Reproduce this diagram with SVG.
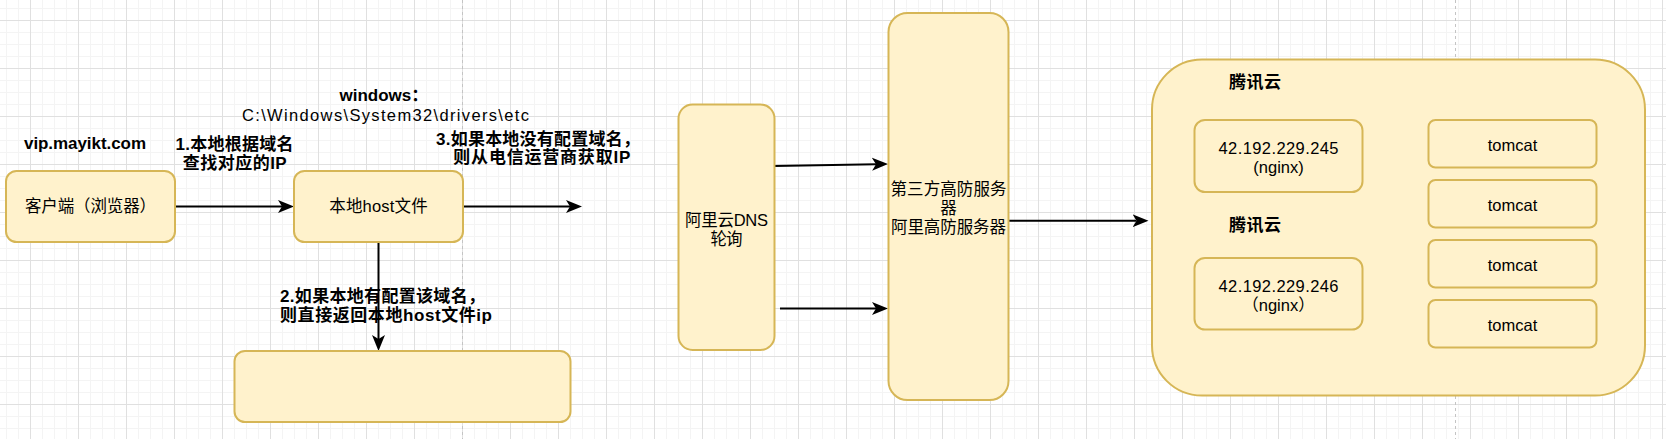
<svg xmlns="http://www.w3.org/2000/svg" width="1666" height="439" viewBox="0 0 1666 439">
<style>
.node{fill:#fff2cc;stroke:#d6b656;stroke-width:2}
.t{font-family:"Liberation Sans","Noto Sans CJK SC",sans-serif;font-size:16.5px;fill:#000}
.b{font-weight:bold;font-size:17px}
.m{text-anchor:middle}
.edge{fill:none;stroke:#000;stroke-width:2;marker-end:url(#arr)}
.pb{stroke:#c4c4c4;stroke-width:1;stroke-dasharray:3 3}
</style>
<defs>
<pattern id="grid" patternUnits="userSpaceOnUse" x="30" y="20" width="48" height="48">
<rect width="48" height="48" fill="#fff"/>
<rect x="12" width="1" height="48" fill="#f4f4f4"/>
<rect x="24" width="1" height="48" fill="#f4f4f4"/>
<rect x="36" width="1" height="48" fill="#f4f4f4"/>
<rect y="12" width="48" height="1" fill="#f4f4f4"/>
<rect y="24" width="48" height="1" fill="#f4f4f4"/>
<rect y="36" width="48" height="1" fill="#f4f4f4"/>
<rect width="1" height="48" fill="#e0e0e0"/>
<rect width="48" height="1" fill="#e0e0e0"/>
</pattern>
<marker id="arr" markerUnits="userSpaceOnUse" markerWidth="16" markerHeight="14" viewBox="0 0 16 14" refX="4" refY="7" orient="auto">
<path d="M0,0.5 L16,7 L0,13.5 L4,7 Z" fill="#000"/>
</marker>
</defs>
<rect width="1666" height="439" fill="url(#grid)"/>
<line class="pb" x1="462.5" y1="0" x2="462.5" y2="439"/>
<line class="pb" x1="1455.5" y1="0" x2="1455.5" y2="439"/>

<g id="connectors">
<path class="edge" d="M175,206.5 L282,206.5"/>
<path class="edge" d="M463,206.5 L570,206.5"/>
<path class="edge" d="M378.5,242 L378.5,339"/>
<path class="edge" d="M774,166 L876,164.2"/>
<path class="edge" d="M780,308.5 L876,308.5"/>
<path class="edge" d="M1008,220.7 L1136.5,220.7"/>
</g>

<g id="client">
<rect class="node" x="6" y="171" width="169" height="71" rx="10.5"/>
<text class="t m" x="90.5" y="212" textLength="131">客户端（浏览器）</text>
</g>
<g id="hostfile">
<rect class="node" x="294" y="171" width="169" height="71" rx="10.5"/>
<text class="t m" x="378.5" y="212" textLength="98.5">本地host文件</text>
</g>
<g id="result">
<rect class="node" x="234.5" y="351" width="336" height="71" rx="10.5"/>
</g>
<g id="aliyun-dns">
<rect class="node" x="678.5" y="104.5" width="96" height="245.5" rx="14"/>
<text class="t m" x="726.5" y="226" textLength="83">阿里云DNS</text>
<text class="t m" x="726.5" y="244.5" textLength="32">轮询</text>
</g>
<g id="ddos-server">
<rect class="node" x="888.5" y="13" width="120" height="387" rx="19"/>
<text class="t m" x="948.5" y="194.5" textLength="116">第三方高防服务</text>
<text class="t m" x="948.5" y="213.5">器</text>
<text class="t m" x="948.5" y="233" textLength="115">阿里高防服务器</text>
</g>
<g id="tencent-cloud">
<rect class="node" x="1152" y="59.5" width="493" height="336" rx="50"/>
<text class="t b m" x="1255" y="88" textLength="52">腾讯云</text>
<text class="t b m" x="1255" y="231" textLength="52">腾讯云</text>
</g>
<g id="nginx1">
<rect class="node" x="1194.5" y="120" width="168" height="72" rx="10.5"/>
<text class="t m" x="1278.5" y="154" font-size="17" textLength="120">42.192.229.245</text>
<text class="t m" x="1278.5" y="173" font-size="17">(nginx)</text>
</g>
<g id="nginx2">
<rect class="node" x="1194.5" y="258" width="168" height="71.5" rx="10.5"/>
<text class="t m" x="1278.5" y="292" font-size="17" textLength="120">42.192.229.246</text>
<text class="t m" x="1278.5" y="311" font-size="17">（nginx）</text>
</g>
<g id="tomcat1">
<rect class="node" x="1428.5" y="120" width="168" height="47.5" rx="7"/>
<text class="t m" x="1512.5" y="150.5" font-size="17">tomcat</text>
</g>
<g id="tomcat2">
<rect class="node" x="1428.5" y="180" width="168" height="47.5" rx="7"/>
<text class="t m" x="1512.5" y="210.5" font-size="17">tomcat</text>
</g>
<g id="tomcat3">
<rect class="node" x="1428.5" y="240" width="168" height="47.5" rx="7"/>
<text class="t m" x="1512.5" y="270.5" font-size="17">tomcat</text>
</g>
<g id="tomcat4">
<rect class="node" x="1428.5" y="300" width="168" height="47.5" rx="7"/>
<text class="t m" x="1512.5" y="330.5" font-size="17">tomcat</text>
</g>

<g id="labels">
<text class="t b" x="24" y="149" font-size="16" textLength="122">vip.mayikt.com</text>
<text class="t b m" x="234.5" y="150" textLength="118">1.本地根据域名</text>
<text class="t b m" x="234.7" y="168.5" textLength="104">查找对应的IP</text>
<text class="t b" x="339.5" y="101" font-size="16">windows：</text>
<text class="t" x="242" y="121" font-size="19" textLength="287">C:\Windows\System32\drivers\etc</text>
<text class="t b" x="436" y="144.5" textLength="204">3.如果本地没有配置域名，</text>
<text class="t b" x="453.3" y="163" textLength="177">则从电信运营商获取IP</text>
<text class="t b" x="280" y="302" textLength="205">2.如果本地有配置该域名，</text>
<text class="t b" x="280" y="321" textLength="212">则直接返回本地host文件ip</text>
</g>
</svg>
